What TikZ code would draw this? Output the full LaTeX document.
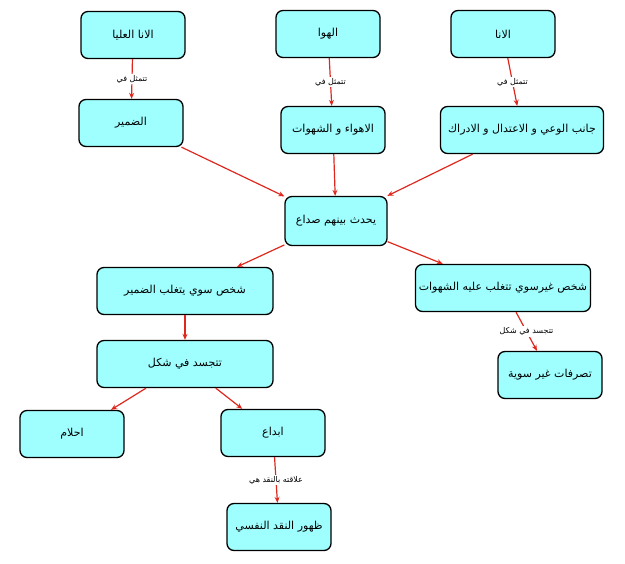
\documentclass[tikz,border=0pt]{standalone}
\usepackage{fontspec}
\usepackage{tikz}
\usetikzlibrary{arrows.meta, positioning}
\TeXXeTstate=1
\newfontfamily\arabicfont[Script=Arabic]{DejaVu Sans}
\newcommand{\artext}[1]{\arabicfont\beginR #1\endR}
\definecolor{boxcyan}{RGB}{159,255,255}
\definecolor{linkred}{RGB}{222,40,30}

\begin{document}
\begin{tikzpicture}[x=1pt, y=-1pt,
	box/.style={draw, line width=1.3pt, rounded corners=7pt, fill=boxcyan, minimum width=104pt, minimum height=47pt, font=\fontsize{11}{13}\selectfont},
	link/.style={draw=linkred, line width=1.2pt, -{Stealth[length=6pt, width=5pt]}},
	tag/.style={fill=white, inner sep=1pt, font=\fontsize{8}{9}\selectfont}]
	\useasboundingbox (0,0) rectangle (625,564);

	\node[box] (superego) 	at (133, 35) 	{\artext{الانا العليا}};
	\node[box] (id) 		at (328, 34) 	{\artext{الهوا}};
	\node[box] (ego) 		at (503, 34) 	{\artext{الانا}};
	\node[box] (conscience) at (131, 123) 	{\artext{الضمير}};
	\node[box] (desires) 	at (333, 130) 	{\artext{الاهواء و الشهوات}};
	\node[box, minimum width=163pt] (aware) at (522, 130) {\artext{جانب الوعي و الاعتدال و الادراك}};
	\node[box, minimum width=102pt, minimum height=49pt] (conflict) at (336, 221) {\artext{يحدث بينهم صداع}};

	%partie gauche
	\node[box, minimum width=176pt] (normal) 	at (185, 291) 	{\artext{شخص سوي يتغلب الضمير}};
	\node[box, minimum width=176pt] (shape) 	at (185, 364) 	{\artext{تتجسد في شكل}};
	\node[box] (dreams) 	at (72, 434) 	{\artext{احلام}};
	\node[box] (creation) 	at (273, 433) 	{\artext{ابداع}};
	\node[box] (critic) 	at (279, 527) 	{\artext{ظهور النقد النفسي}};

	%partie droite
	\node[box, minimum width=175pt] (abnormal) at (503, 288) {\artext{شخص غيرسوي تتغلب عليه الشهوات}};
	\node[box] (behave) 	at (550, 375) 	{\artext{تصرفات غير سوية}};

	\draw[link] (superego) to node[tag] {\artext{تتمثل في}} (conscience);
	\draw[link] (id) to node[tag] {\artext{تتمثل في}} (desires);
	\draw[link] (ego) to node[tag] {\artext{تتمثل في}} (aware);
	\draw[link] (conscience) to (conflict);
	\draw[link] (desires) to (conflict);
	\draw[link] (aware) to (conflict);
	\draw[link] (conflict) to (normal);
	\draw[link] (conflict) to (abnormal);
	\draw[link] (normal) to (shape);
	\draw[link] (shape) to (dreams);
	\draw[link] (shape) to (creation);
	\draw[link] (creation) to node[tag] {\artext{علاقته بالنقد هي}} (critic);
	\draw[link] (abnormal) to node[tag] {\artext{تتجسد في شكل}} (behave);
\end{tikzpicture}
\end{document}
